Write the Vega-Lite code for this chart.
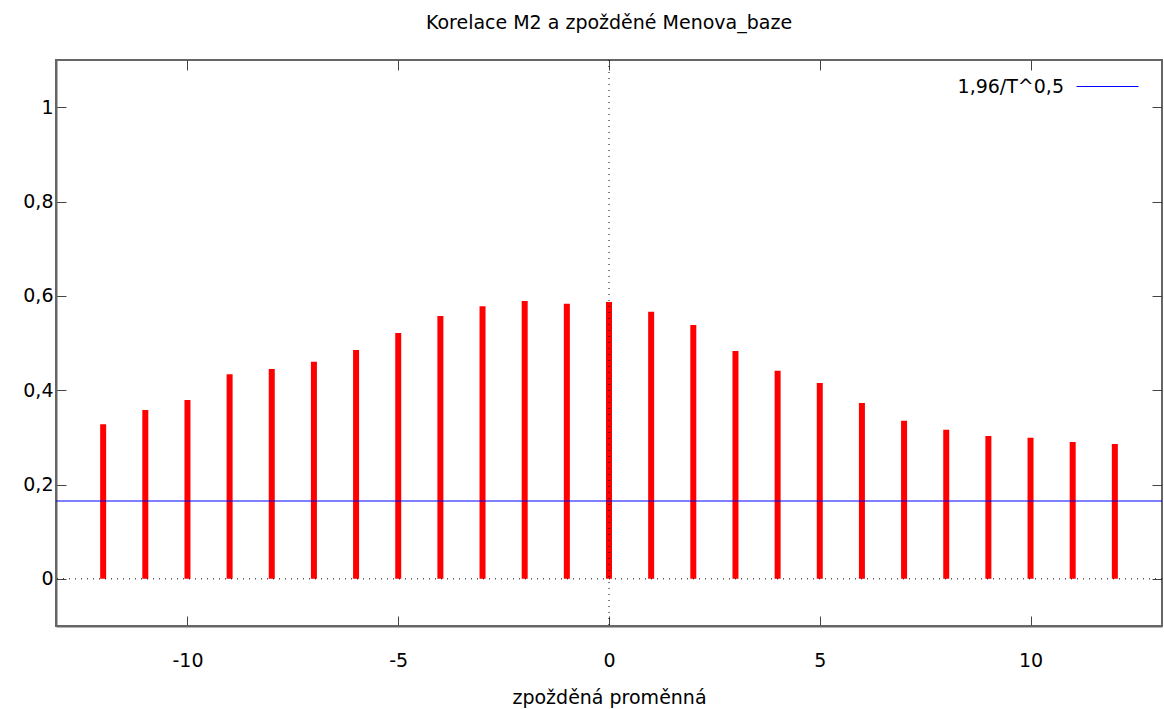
{
  "$schema": "https://vega.github.io/schema/vega-lite/v6.json",
  "width": 1106,
  "height": 566,
  "autosize": {"type": "none"},
  "padding": {"left": 56, "top": 60, "right": 2, "bottom": 83},
  "background": "white",
  "title": {"text": "Korelace M2 a zpožděné Menova_baze", "font": "DejaVu Sans", "fontSize": 19, "fontWeight": "normal", "color": "black", "anchor": "middle", "offset": 22},
  "config": {
    "view": {"stroke": "#666666", "strokeWidth": 2},
    "axis": {"labelFont": "DejaVu Sans", "labelFontSize": 19, "labelColor": "black", "titleFont": "DejaVu Sans", "titleFontSize": 19, "titleFontWeight": "normal", "titleColor": "black", "grid": false, "domainColor": "#666666", "tickColor": "#444444", "tickSize": -10, "domainWidth": 2}
  },
  "datasets": {
    "acf": [
      {"lag": -12, "r": 0.328}, {"lag": -11, "r": 0.358}, {"lag": -10, "r": 0.379},
      {"lag": -9, "r": 0.434}, {"lag": -8, "r": 0.445}, {"lag": -7, "r": 0.460},
      {"lag": -6, "r": 0.485}, {"lag": -5, "r": 0.521}, {"lag": -4, "r": 0.557},
      {"lag": -3, "r": 0.578}, {"lag": -2, "r": 0.589}, {"lag": -1, "r": 0.583},
      {"lag": 0, "r": 0.587}, {"lag": 1, "r": 0.566}, {"lag": 2, "r": 0.538},
      {"lag": 3, "r": 0.483}, {"lag": 4, "r": 0.441}, {"lag": 5, "r": 0.415},
      {"lag": 6, "r": 0.373}, {"lag": 7, "r": 0.335}, {"lag": 8, "r": 0.316},
      {"lag": 9, "r": 0.303}, {"lag": 10, "r": 0.299}, {"lag": 11, "r": 0.290},
      {"lag": 12, "r": 0.286}
    ],
    "bound": [{"name": "1,96/T^0,5", "value": 0.165}]
  },
  "resolve": {"axis": {"x": "independent", "y": "independent"}},
  "layer": [
    {
      "data": {"name": "acf"},
      "mark": {"type": "bar", "color": "#ff0000", "size": 6},
      "encoding": {
        "x": {"field": "lag", "type": "quantitative", "scale": {"domain": [-13, 13], "nice": false, "zero": false},
              "axis": {"orient": "bottom", "values": [-10, -5, 0, 5, 10], "title": "zpožděná proměnná", "labelPadding": 35, "titlePadding": 18, "labelExpr": "replace(datum.label, '−', '-')"}},
        "y": {"field": "r", "type": "quantitative", "scale": {"domain": [-0.1, 1.1], "nice": false, "zero": false},
              "axis": {"orient": "left", "values": [0, 0.2, 0.4, 0.6, 0.8, 1], "title": null, "labelPadding": 13, "labelExpr": "replace(toString(datum.value), '.', ',')"}},
        "y2": {"datum": 0}
      }
    },
    {
      "data": {"values": [{"v": 0}]},
      "mark": {"type": "rule", "color": "#000000", "strokeDash": [1, 5], "strokeWidth": 1},
      "encoding": {
        "y": {"datum": 0, "type": "quantitative",
              "axis": {"orient": "right", "values": [0, 0.2, 0.4, 0.6, 0.8, 1], "labels": false, "title": null, "domain": false}}
      }
    },
    {
      "data": {"values": [{"v": 0}]},
      "mark": {"type": "rule", "color": "#000000", "strokeDash": [1, 5], "strokeWidth": 1},
      "encoding": {
        "x": {"field": "v", "type": "quantitative",
              "axis": {"orient": "top", "values": [-10, -5, 0, 5, 10], "labels": false, "title": null, "domain": false}}
      }
    },
    {
      "data": {"name": "bound"},
      "mark": {"type": "rule", "strokeWidth": 1},
      "encoding": {
        "y": {"field": "value", "type": "quantitative", "axis": null},
        "color": {"field": "name", "type": "nominal", "scale": {"range": ["#0000ff"]},
                  "legend": {"title": null, "orient": "none", "legendX": 1020, "legendY": -5, "padding": 0, "symbolType": "stroke", "symbolSize": 3844, "symbolStrokeWidth": 1, "symbolStrokeColor": "#0000ff", "labelFont": "DejaVu Sans", "labelFontSize": 19, "labelColor": "black", "labelAlign": "right", "labelOffset": -75}}
      }
    }
  ]
}
